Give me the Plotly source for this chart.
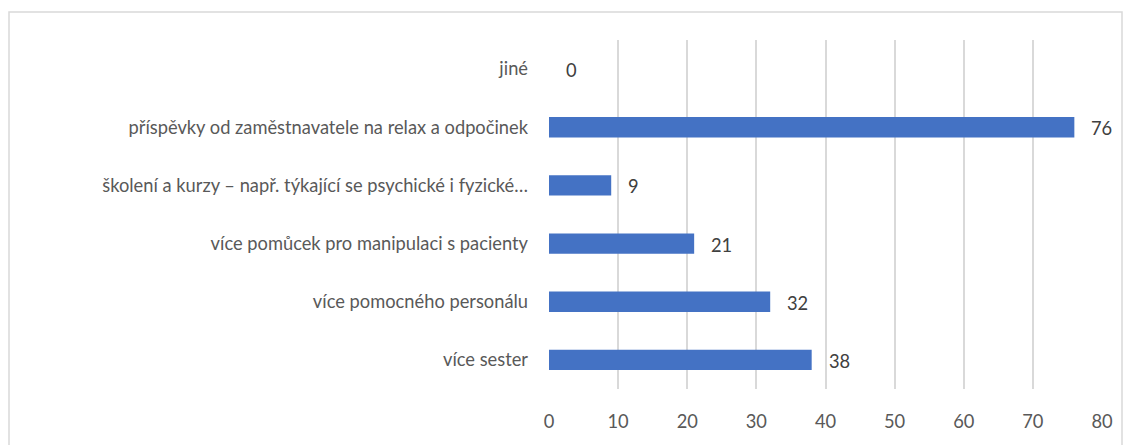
import plotly.graph_objects as go

categories = [
    "více sester",
    "více pomocného personálu",
    "více pomůcek pro manipulaci s pacienty",
    "školení a kurzy – např. týkající se psychické i fyzické…",
    "příspěvky od zaměstnavatele na relax a odpočinek",
    "jiné",
]
values = [38, 32, 21, 9, 76, 0]
x_ticks = [0, 10, 20, 30, 40, 50, 60, 70, 80]

# page body has an 8px margin; the figure is sized to fit the window
W, H = 1124, 437
L, R, T, B = 541, 30, 32, 56
FONT = "Lato, 'Open Sans', sans-serif"
FS = 18.3

fig = go.Figure()
fig.add_trace(go.Bar(
    x=values, y=categories, orientation="h",
    marker=dict(color="#4472C4", line=dict(width=0)),
    width=0.35,
    hoverinfo="x+y",
))

for c, v in zip(categories, values):
    fig.add_annotation(x=v, y=c, text=str(v), showarrow=False,
                       xanchor="left", yanchor="middle", xshift=15, yshift=-1,
                       font=dict(family=FONT, size=FS, color="#404040"))

pw = W - L - R
ph = H - T - B
def px_x(p):
    return (p - L) / pw
def px_y(p):
    return (H - B - p) / ph

fig.add_shape(type="rect", xref="paper", yref="paper",
              x0=px_x(1), x1=px_x(1114), y0=px_y(470), y1=px_y(4),
              line=dict(color="#D9D9D9", width=1.5), fillcolor="rgba(0,0,0,0)",
              layer="below")

fig.update_layout(
    width=W, height=H,
    margin=dict(l=L, r=R, t=T, b=B, autoexpand=False),
    paper_bgcolor="white", plot_bgcolor="white",
    showlegend=False,
    font=dict(family=FONT, size=FS, color="#595959"),
    xaxis=dict(range=[0, 80], tickvals=x_ticks, showgrid=True,
               gridcolor="#D9D9D9", gridwidth=1.5, zeroline=False,
               showline=False, ticks="", ticklabelstandoff=20,
               tickfont=dict(size=FS, color="#595959")),
    yaxis=dict(showgrid=False, zeroline=False, showline=False, ticks="",
               ticklabelstandoff=20, automargin=False,
               tickfont=dict(size=FS, color="#595959"),
               categoryorder="array", categoryarray=categories),
)

fig.write_html("out.html")
